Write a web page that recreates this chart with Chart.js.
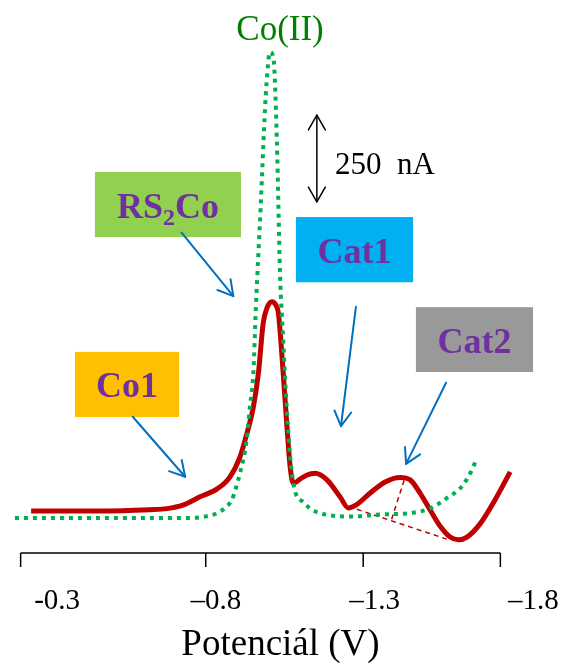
<!DOCTYPE html>
<html>
<head>
<meta charset="utf-8">
<script src="https://cdn.jsdelivr.net/npm/chart.js@4.4.0/dist/chart.umd.min.js"></script>
<style>
  html, body { margin: 0; padding: 0; background: #fff; }
  #wrap { width: 561px; height: 664px; position: relative; }
</style>
</head>
<body>
<div id="wrap"><canvas id="chart"></canvas></div>
<script>
// --- Data: potential (V) and current (nA, arbitrary offset) ---
const tickValues = [-0.3, -0.8, -1.3, -1.8];
const tickLabels = ["-0.3", "\u20130.8", "\u20131.3", "\u20131.8"];
const axisMarks = [-0.185, -0.768, -1.264, -1.696];   // where the tick marks sit on the drawn axis

// Co(II) reference curve (green dotted)
const greenV = [-0.167, -0.435, -0.718, -0.766, -0.804, -0.829, -0.850, -0.863, -0.876, -0.897,
  -0.907, -0.918, -0.926, -0.941, -0.955, -0.964, -0.970, -0.981, -0.992, -1.002,
  -1.012, -1.023, -1.034, -1.044, -1.052, -1.075, -1.097, -1.128, -1.175, -1.223,
  -1.317, -1.421, -1.475, -1.527, -1.574, -1.606, -1.622];
const greenI = [101, 101, 101, 105, 115, 130, 153, 187, 231, 326,
  421, 519, 709, 998, 1286, 1407, 1445, 1430, 1191, 807,
  614, 421, 277, 202, 170, 147, 128, 115, 107, 105,
  111, 116, 129, 158, 191, 239, 273];

// sample curve (red)
const redV = [-0.218, -0.435, -0.592, -0.646, -0.696, -0.750, -0.804, -0.844, -0.876, -0.898,
  -0.918, -0.934, -0.949, -0.961, -0.976, -0.989, -0.997, -1.012, -1.023, -1.034,
  -1.044, -1.065, -1.087, -1.112, -1.150, -1.191, -1.217, -1.241, -1.286, -1.333,
  -1.380, -1.412, -1.443, -1.475, -1.506, -1.538, -1.564, -1.591, -1.632, -1.679, -1.727];
const redI = [121, 121, 125, 128, 138, 162, 185, 219, 277, 346,
  421, 519, 663, 707, 725, 715, 691, 519, 375, 248,
  201, 213, 225, 230, 211, 162, 130, 138, 173, 205,
  218, 211, 173, 124, 78, 46, 38, 46, 84, 153, 234];

// baseline construction for Cat2 (dark red dashed)
const baseV = [-1.244, -1.527];
const baseI = [126, 40];
const heightV = [-1.393, -1.352];
const heightI = [210, 93];

const scaleBarV = -1.118;
const scaleBarI = [1013, 1263];   // 250 nA

// --- Annotations (anchored in data units) ---
const notes = [
  { parts: [["Co1", 36, 0]], fill: "#FFC000", box: [-0.356, -0.684, 580, 392], arrow: [-0.538, 393, -0.703, 220] },
  { parts: [["RS", 36, 0], ["2", 24, 7], ["Co", 36, 0]], fill: "#92D050", box: [-0.419, -0.879, 1099, 911], arrow: [-0.692, 924, -0.855, 741] },
  { parts: [["Cat1", 36, 0]], fill: "#00B0F0", box: [-1.052, -1.421, 969, 781], arrow: [-1.241, 710, -1.194, 366] },
  { parts: [["Cat2", 36, 0]], fill: "#999999", box: [-1.430, -1.799, 709, 522], arrow: [-1.525, 491, -1.399, 257] }
];

const FONT = "'Liberation Serif', 'Times New Roman', serif";
Chart.defaults.font.family = FONT;

function toXY(xs, ys) {
  return xs.map((v, i) => ({ x: v, y: ys[i] }));
}

function drawArrow(ctx, x1, y1, x2, y2, len, color, width, both) {
  ctx.save();
  ctx.strokeStyle = color;
  ctx.lineWidth = width;
  ctx.lineCap = "round";
  ctx.lineJoin = "round";
  ctx.beginPath();
  ctx.moveTo(x1, y1);
  ctx.lineTo(x2, y2);
  ctx.stroke();
  const head = (tx, ty, fx, fy) => {
    const a = Math.atan2(ty - fy, tx - fx);
    ctx.beginPath();
    ctx.moveTo(tx - len * Math.cos(a - 0.52), ty - len * Math.sin(a - 0.52));
    ctx.lineTo(tx, ty);
    ctx.lineTo(tx - len * Math.cos(a + 0.52), ty - len * Math.sin(a + 0.52));
    ctx.stroke();
  };
  head(x2, y2, x1, y1);
  if (both) head(x1, y1, x2, y2);
  ctx.restore();
}

const decorPlugin = {
  id: "decor",
  afterDatasetsDraw(chart) {
    const { ctx, chartArea } = chart;
    const sx = chart.scales.x, sy = chart.scales.y;
    const px = v => sx.getPixelForValue(v);
    const py = v => sy.getPixelForValue(v);

    // axis line with tick marks
    ctx.save();
    ctx.strokeStyle = "#000";
    ctx.lineWidth = 1.5;
    const yb = chartArea.bottom;
    ctx.beginPath();
    ctx.moveTo(px(axisMarks[0]), yb);
    ctx.lineTo(px(axisMarks[axisMarks.length - 1]), yb);
    axisMarks.forEach(m => {
      ctx.moveTo(px(m), yb);
      ctx.lineTo(px(m), yb + 14);
    });
    ctx.stroke();
    ctx.restore();

    // label boxes + arrows
    notes.forEach(n => {
      const x0 = px(n.box[0]), x1 = px(n.box[1]);
      const y0 = py(n.box[2]), y1 = py(n.box[3]);
      ctx.fillStyle = n.fill;
      ctx.fillRect(x0, y0, x1 - x0, y1 - y0);
      let total = 0;
      n.parts.forEach(p => {
        ctx.font = "bold " + p[1] + "px " + FONT;
        total += ctx.measureText(p[0]).width;
      });
      let tx = (x0 + x1) / 2 - total / 2;
      const base = (y0 + y1) / 2 + 13;
      ctx.fillStyle = "#7030A0";
      ctx.textBaseline = "alphabetic";
      ctx.textAlign = "left";
      n.parts.forEach(p => {
        ctx.font = "bold " + p[1] + "px " + FONT;
        ctx.fillText(p[0], tx, base + p[2]);
        tx += ctx.measureText(p[0]).width;
      });
      const a = n.arrow;
      drawArrow(ctx, px(a[0]), py(a[1]), px(a[2]), py(a[3]), 17, "#0070C0", 2, false);
    });

    // 250 nA scale bar
    drawArrow(ctx, px(scaleBarV), py(scaleBarI[0]), px(scaleBarV), py(scaleBarI[1]), 17, "#000", 1.5, true);
    ctx.fillStyle = "#000";
    ctx.font = "31px " + FONT;
    ctx.textAlign = "left";
    ctx.textBaseline = "middle";
    ctx.fillText("250  nA", px(-1.175), py(1116));

    // Co(II) label
    ctx.fillStyle = "#008000";
    ctx.font = "35px " + FONT;
    ctx.textAlign = "center";
    ctx.fillText("Co(II)", px(-1.002), py(1505));
  }
};

new Chart(document.getElementById("chart"), {
  type: "line",
  data: {
    datasets: [
      {
        label: "Co(II)",
        data: toXY(greenV, greenI),
        borderColor: "#00B050",
        borderWidth: 4,
        borderDash: [4, 5],
        pointRadius: 0,
        cubicInterpolationMode: "monotone",
        fill: false,
        clip: false
      },
      {
        label: "sample",
        data: toXY(redV, redI),
        borderColor: "#C00000",
        borderWidth: 5,
        pointRadius: 0,
        cubicInterpolationMode: "monotone",
        fill: false,
        clip: false
      },
      {
        label: "baseline",
        data: toXY(baseV, baseI),
        borderColor: "#C00000",
        borderWidth: 1.5,
        borderDash: [5, 4],
        pointRadius: 0,
        fill: false,
        clip: false
      },
      {
        label: "height",
        data: toXY(heightV, heightI),
        borderColor: "#C00000",
        borderWidth: 1.5,
        borderDash: [5, 4],
        pointRadius: 0,
        fill: false,
        clip: false
      }
    ]
  },
  options: {
    responsive: true,
    maintainAspectRatio: false,
    animation: false,
    layout: { padding: 0 },
    plugins: { legend: { display: false }, tooltip: { enabled: false } },
    scales: {
      x: {
        type: "linear",
        reverse: true,
        min: -1.887,
        max: -0.12,
        afterBuildTicks: s => { s.ticks = tickValues.map(v => ({ value: v })); },
        afterFit: s => {
          s.height = 111;
          s.paddingLeft = 0;
          s.paddingRight = 0;
        },
        grid: { display: false, drawTicks: false },
        border: { display: false },
        ticks: {
          padding: 31,
          color: "#000",
          font: { size: 29, family: FONT },
          maxRotation: 0,
          autoSkip: false,
          callback: (v, i) => tickLabels[i]
        },
        title: {
          display: true,
          text: "Potenciál (V)",
          color: "#000",
          font: { size: 37, family: FONT, lineHeight: 1 },
          padding: 0
        }
      },
      y: { display: false, min: 0, max: 1595 }
    }
  },
  plugins: [decorPlugin]
});
</script>
</body>
</html>
